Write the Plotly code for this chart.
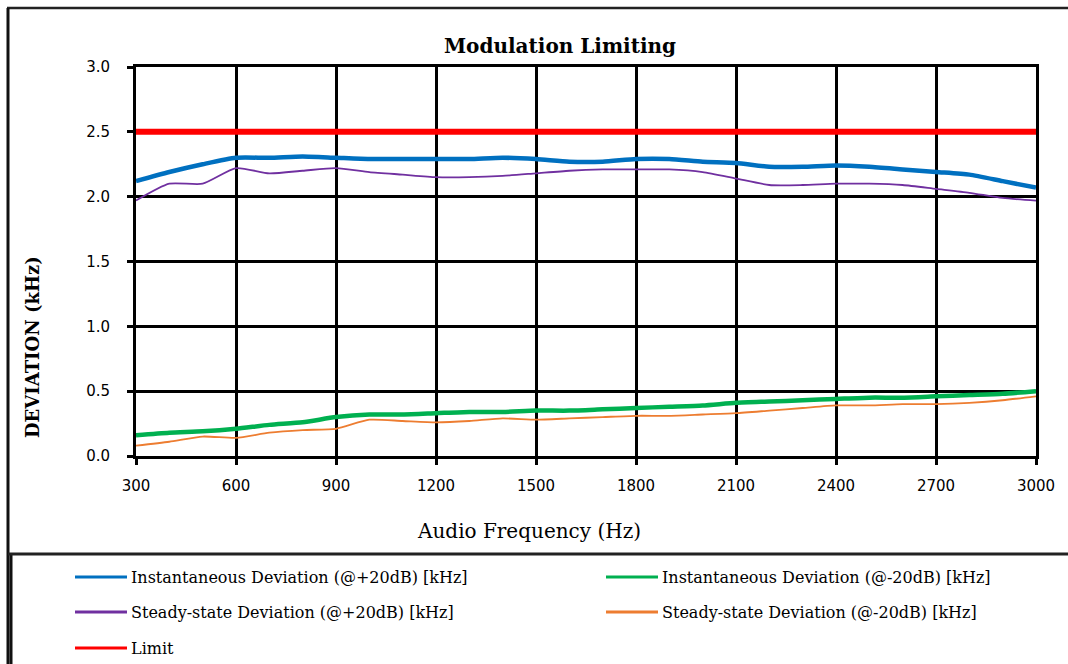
import plotly.graph_objects as go

# Audio test frequencies (Hz)
freq_hz = [300, 400, 500, 600, 700, 800, 900, 1000, 1100, 1200, 1300, 1400, 1500, 1600,
           1700, 1800, 1900, 2000, 2100, 2200, 2300, 2400, 2500, 2600, 2700, 2800, 2900, 3000]

# Deviation readings (kHz)
inst_plus20 = [2.12, 2.19, 2.25, 2.30, 2.30, 2.31, 2.30, 2.29, 2.29, 2.29, 2.29, 2.30, 2.29, 2.27,
               2.27, 2.29, 2.29, 2.27, 2.26, 2.23, 2.23, 2.24, 2.23, 2.21, 2.19, 2.17, 2.12, 2.07]
inst_minus20 = [0.16, 0.18, 0.19, 0.21, 0.24, 0.26, 0.30, 0.32, 0.32, 0.33, 0.34, 0.34, 0.35, 0.35,
                0.36, 0.37, 0.38, 0.39, 0.41, 0.42, 0.43, 0.44, 0.45, 0.45, 0.46, 0.47, 0.48, 0.50]
steady_plus20 = [1.97, 2.10, 2.10, 2.22, 2.18, 2.20, 2.22, 2.19, 2.17, 2.15, 2.15, 2.16, 2.18, 2.20,
                 2.21, 2.21, 2.21, 2.19, 2.14, 2.09, 2.09, 2.10, 2.10, 2.09, 2.06, 2.03, 1.99, 1.97]
steady_minus20 = [0.08, 0.11, 0.15, 0.14, 0.18, 0.20, 0.21, 0.28, 0.27, 0.26, 0.27, 0.29, 0.28, 0.29,
                  0.30, 0.31, 0.31, 0.32, 0.33, 0.35, 0.37, 0.39, 0.39, 0.40, 0.40, 0.41, 0.43, 0.46]
limit_khz = 2.5

x_ticks = [300, 600, 900, 1200, 1500, 1800, 2100, 2400, 2700, 3000]
y_ticks = [0.0, 0.5, 1.0, 1.5, 2.0, 2.5, 3.0]

# (name, values, colour, width, legend column, legend row)
series = [
    ("Instantaneous Deviation (@+20dB) [kHz]", inst_plus20, "#0070C0", 4.5, 0, 0),
    ("Instantaneous Deviation (@-20dB) [kHz]", inst_minus20, "#00B050", 4.5, 1, 0),
    ("Steady-state Deviation (@+20dB) [kHz]", steady_plus20, "#7030A0", 1.8, 0, 1),
    ("Steady-state Deviation (@-20dB) [kHz]", steady_minus20, "#ED7D31", 1.8, 1, 1),
    ("Limit", [limit_khz] * len(freq_hz), "#FF0000", 6, 0, 2),
]

W, H = 1068, 664
PL, PR, PT, PB = 136, 1036, 67, 456  # plot area in pixels


def px_x(px):
    return (px - PL) / (PR - PL)


def px_y(py):
    return (PB - py) / (PB - PT)


fig = go.Figure()
for name, vals, color, width, _, _ in series:
    fig.add_trace(go.Scatter(
        x=freq_hz, y=vals, name=name, mode="lines",
        line=dict(color=color, width=width, shape="spline", smoothing=0.6),
        showlegend=False,
    ))

serif = "DejaVu Serif"
shapes = []
annotations = []

# legend below the chart: sample line + label per series
legend_cols = [(75, 127, 129), (606, 658, 660)]
legend_rows = [577, 612, 648]
for name, vals, color, width, col, row in series:
    lx0, lx1, tx = legend_cols[col]
    ly = legend_rows[row]
    shapes.append(dict(type="line", xref="paper", yref="paper",
                       x0=px_x(lx0), x1=px_x(lx1), y0=px_y(ly), y1=px_y(ly),
                       line=dict(color=color, width=3)))
    annotations.append(dict(text=name, xref="paper", yref="paper",
                            x=px_x(tx), y=px_y(ly), xanchor="left", yanchor="middle",
                            showarrow=False, font=dict(family=serif, size=16, color="black")))

# outer frames of the chart area and legend box
frame = dict(color="#222222", width=2.5)
shapes += [
    dict(type="line", xref="paper", yref="paper", x0=px_x(7), x1=px_x(1068),
         y0=px_y(8), y1=px_y(8), line=frame),
    dict(type="line", xref="paper", yref="paper", x0=px_x(8), x1=px_x(8),
         y0=px_y(8), y1=px_y(664), line=dict(color="#111111", width=3)),
    dict(type="line", xref="paper", yref="paper", x0=px_x(11), x1=px_x(11),
         y0=px_y(554), y1=px_y(664), line=dict(color="#111111", width=3)),
    dict(type="line", xref="paper", yref="paper", x0=px_x(8), x1=px_x(1068),
         y0=px_y(554), y1=px_y(554), line=dict(color="#222222", width=3)),
]

# axis titles
annotations.append(dict(text="<b>DEVIATION (kHz)</b>", xref="paper", yref="paper",
                        x=px_x(32), y=px_y(347), textangle=-90,
                        xanchor="center", yanchor="middle", showarrow=False,
                        font=dict(family=serif, size=18, color="black")))
annotations.append(dict(text="Audio Frequency (Hz)", xref="paper", yref="paper",
                        x=px_x(529), y=px_y(531), xanchor="center", yanchor="middle",
                        showarrow=False, font=dict(family=serif, size=20, color="black")))

axis_common = dict(
    showgrid=True, gridcolor="black", gridwidth=3,
    showline=True, linecolor="black", linewidth=3, mirror=True,
    ticks="outside", ticklen=6, tickwidth=3, tickcolor="black",
    zeroline=False,
    tickfont=dict(family="DejaVu Sans", size=15, color="black"),
)

fig.update_layout(
    width=W, height=H,
    margin=dict(l=PL, r=W - PR, t=PT, b=H - PB, autoexpand=False),
    paper_bgcolor="white", plot_bgcolor="white",
    title=dict(text="<b>Modulation Limiting</b>", xref="container", yref="container",
               x=560 / W, y=1 - 46 / H, xanchor="center", yanchor="middle",
               font=dict(family=serif, size=20, color="black")),
    xaxis=dict(range=[300, 3000], tickvals=x_ticks, ticktext=[str(v) for v in x_ticks],
               ticklabelstandoff=8, **axis_common),
    yaxis=dict(range=[0, 3], tickvals=y_ticks, ticktext=[f"{v:.1f}" for v in y_ticks],
               ticklabelstandoff=14, **axis_common),
    shapes=shapes,
    annotations=annotations,
    showlegend=False,
)

fig.write_html("out.html")
